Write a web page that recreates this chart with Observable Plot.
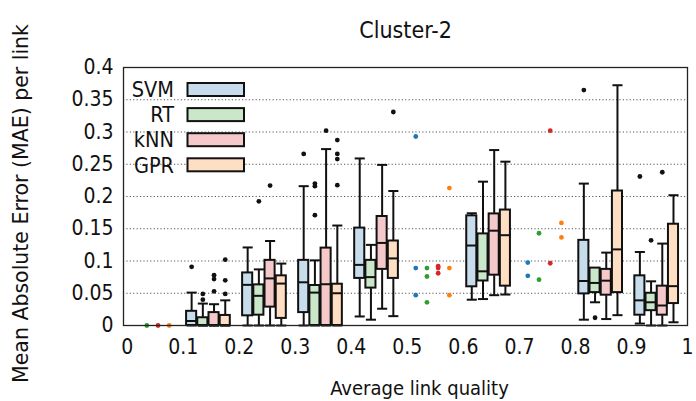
<!DOCTYPE html>
<html>
<head>
<meta charset="utf-8">
<script src="https://cdn.jsdelivr.net/npm/d3@7"></script>
<script src="https://cdn.jsdelivr.net/npm/@observablehq/plot@0.6"></script>
<style>
  html, body { margin: 0; padding: 0; background: #fff; }
  #wrap { position: relative; width: 696px; height: 401px; font-family: "DejaVu Sans", sans-serif; }
  #legend { position: absolute; left: 0; top: 0; pointer-events: none; }
</style>
</head>
<body>
<div id="wrap"></div>
<script>
// ---------------- data ----------------
const methods = ["SVM", "RT", "kNN", "GPR"];
const boxFills = ["#c7ddec", "#cae7ca", "#f5c9c9", "#ffdfc3"];
const pointColors = ["#1f77b4", "#2ca02c", "#d62728", "#ff7f0e"];

// bin start of every link-quality bin that has boxes
const boxBins = [0.1, 0.2, 0.3, 0.4, 0.6, 0.8, 0.9];
// per bin: [whiskerLow, q1, median, q3, whiskerHigh]
const svmBoxes = [
  [0, 0, 0.007, 0.022, 0.051],
  [0, 0.015, 0.063, 0.0815, 0.121],
  [0, 0.020, 0.067, 0.101, 0.216],
  [0.014, 0.073, 0.094, 0.151, 0.259],
  [0.040, 0.060, 0.124, 0.170, 0.174],
  [0.009, 0.049, 0.069, 0.132, 0.220],
  [0.003, 0.016, 0.039, 0.077, 0.114]
];
const rtBoxes = [
  [0, 0, 0, 0.012, 0.034],
  [0, 0.016, 0.046, 0.063, 0.087],
  [0, 0, 0.051, 0.062, 0.101],
  [0.009, 0.058, 0.075, 0.101, 0.125],
  [0.041, 0.069, 0.084, 0.142, 0.223],
  [0.036, 0.051, 0.066, 0.089, 0.089],
  [0, 0.023, 0.036, 0.050, 0.0685]
];
const knnBoxes = [
  [0, 0, 0, 0.020, 0.033],
  [0, 0.0285, 0.073, 0.101, 0.131],
  [0, 0, 0.064, 0.120, 0.2735],
  [0.026, 0.087, 0.128, 0.169, 0.249],
  [0.047, 0.078, 0.147, 0.173, 0.272],
  [0.010, 0.047, 0.0695, 0.087, 0.113],
  [0, 0.016, 0.031, 0.061, 0.127]
];
const gprBoxes = [
  [0, 0, 0, 0.0156, 0.039],
  [0, 0.011, 0.065, 0.077, 0.096],
  [0, 0, 0.050, 0.064, 0.155],
  [0.0145, 0.073, 0.104, 0.131, 0.2085],
  [0.048, 0.061, 0.140, 0.179, 0.254],
  [0.016, 0.051, 0.118, 0.2085, 0.3725],
  [0.005, 0.034, 0.061, 0.157, 0.202]
];

// outliers: [binStart, value]
const svmFliers = [[0.1, 0.091], [0.3, 0.266], [0.8, 0.365], [0.9, 0.231]];
const rtFliers = [[0.1, 0.049], [0.1, 0.040], [0.2, 0.1925], [0.3, 0.216], [0.3, 0.220], [0.3, 0.171], [0.8, 0.012], [0.9, 0.132]];
const knnFliers = [[0.1, 0.078], [0.1, 0.072], [0.1, 0.053], [0.2, 0.217], [0.3, 0.302], [0.9, 0.2376]];
const gprFliers = [[0.1, 0.102], [0.1, 0.070], [0.1, 0.049], [0.3, 0.2875], [0.3, 0.266], [0.3, 0.258], [0.3, 0.2175], [0.4, 0.331]];

// sparse bins drawn as single points: [binStart, value]
const svmPoints = [[0.5, 0.293], [0.5, 0.089], [0.5, 0.047], [0.7, 0.0975], [0.7, 0.077]];
const rtPoints = [[0.0, 0], [0.5, 0.089], [0.5, 0.076], [0.5, 0.036], [0.7, 0.143], [0.7, 0.071]];
const knnPoints = [[0.0, 0], [0.5, 0.092], [0.5, 0.089], [0.5, 0.081], [0.7, 0.302], [0.7, 0.0965]];
const gprPoints = [[0.0, 0], [0.5, 0.213], [0.5, 0.089], [0.5, 0.047], [0.7, 0.159], [0.7, 0.1365]];

const xTicks = [0, 0.1, 0.2, 0.3, 0.4, 0.5, 0.6, 0.7, 0.8, 0.9, 1];
const yTicks = [0, 0.05, 0.1, 0.15, 0.2, 0.25, 0.3, 0.35, 0.4];
const titleText = "Cluster-2";
const xLabel = "Average link quality";
const yLabel = "Mean Absolute Error (MAE) per link";

// ---------------- build ----------------
const allBoxes = [svmBoxes, rtBoxes, knnBoxes, gprBoxes];
const allFliers = [svmFliers, rtFliers, knnFliers, gprFliers];
const allPoints = [svmPoints, rtPoints, knnPoints, gprPoints];
const pos = (bin, i) => bin + 0.015 + i * 0.02;
const hw = 0.009;
const fmt = d => String(+d.toFixed(2));
const hFont = "DejaVu Sans Condensed, DejaVu Sans";

const marks = [
  Plot.gridY(yTicks.filter(v => v > 0 && v < 0.4), {stroke: "#555", strokeOpacity: 1, strokeWidth: 1, strokeDasharray: "1.2,2.2"})
];

methods.forEach((m, i) => {
  const rows = allBoxes[i].map((s, k) => ({x: pos(boxBins[k], i), lo: s[0], q1: s[1], med: s[2], q3: s[3], hi: s[4]}));
  const lineStyle = {stroke: "#111", strokeWidth: 2};
  marks.push(
    Plot.link(rows, {x1: "x", x2: "x", y1: "q3", y2: "hi", ...lineStyle}),
    Plot.link(rows, {x1: "x", x2: "x", y1: "q1", y2: "lo", ...lineStyle}),
    Plot.link(rows, {x1: d => d.x - hw, x2: d => d.x + hw, y1: "hi", y2: "hi", ...lineStyle}),
    Plot.link(rows, {x1: d => d.x - hw, x2: d => d.x + hw, y1: "lo", y2: "lo", ...lineStyle}),
    Plot.rect(rows, {x1: d => d.x - hw, x2: d => d.x + hw, y1: "q1", y2: "q3", fill: boxFills[i], stroke: "#111", strokeWidth: 2}),
    Plot.link(rows, {x1: d => d.x - hw, x2: d => d.x + hw, y1: "med", y2: "med", ...lineStyle}),
    Plot.dot(allFliers[i], {x: d => pos(d[0], i), y: d => d[1], r: 2.4, fill: "#111", stroke: "none"}),
    Plot.dot(allPoints[i], {x: d => pos(d[0], i), y: d => d[1], r: 2.4, fill: pointColors[i], stroke: "none"})
  );
});

marks.push(
  Plot.axisX(xTicks, {tickSize: 0, tickPadding: 14, tickFormat: fmt, fontSize: 21, fontFamily: hFont, label: null}),
  Plot.axisY(yTicks, {tickSize: 0, tickPadding: 10, tickFormat: fmt, fontSize: 21, fontFamily: hFont, label: null}),
  Plot.frame({stroke: "#222", strokeWidth: 1.3}),
  Plot.text([titleText], {text: d => d, frameAnchor: "top", lineAnchor: "middle", dy: -37, fontSize: 23, fontFamily: hFont}),
  Plot.text([xLabel], {text: d => d, frameAnchor: "bottom", lineAnchor: "middle", dx: 14, dy: 63, fontSize: 20, fontFamily: hFont}),
  Plot.text([yLabel], {text: d => d, frameAnchor: "left", textAnchor: "middle", lineAnchor: "middle", dx: -102, dy: 7, rotate: -90, fontSize: 20.5})
);

const chart = Plot.plot({
  width: 696,
  height: 401,
  marginLeft: 123,
  marginRight: 9,
  marginTop: 67,
  marginBottom: 76,
  style: {fontFamily: "DejaVu Sans", fontSize: "18px", background: "#fff", color: "#111"},
  x: {type: "linear", domain: [-0.0066, 1.0]},
  y: {type: "linear", domain: [0, 0.4]},
  marks
});
document.getElementById("wrap").appendChild(chart);

// legend (inside the plot, upper left)
const leg = d3.select("#wrap").append("svg").attr("id", "legend").attr("width", 696).attr("height", 401);
methods.forEach((m, i) => {
  const cy = 89.5 + i * 25.1;
  leg.append("text").attr("x", 174).attr("y", cy).attr("dy", "0.36em")
    .attr("text-anchor", "end").attr("font-family", hFont).attr("font-size", 21.5)
    .attr("fill", "#111").text(m);
  leg.append("rect").attr("x", 187.5).attr("y", cy - 6.5).attr("width", 56.5).attr("height", 13)
    .attr("fill", boxFills[i]).attr("stroke", "#111").attr("stroke-width", 2);
});
</script>
</body>
</html>
